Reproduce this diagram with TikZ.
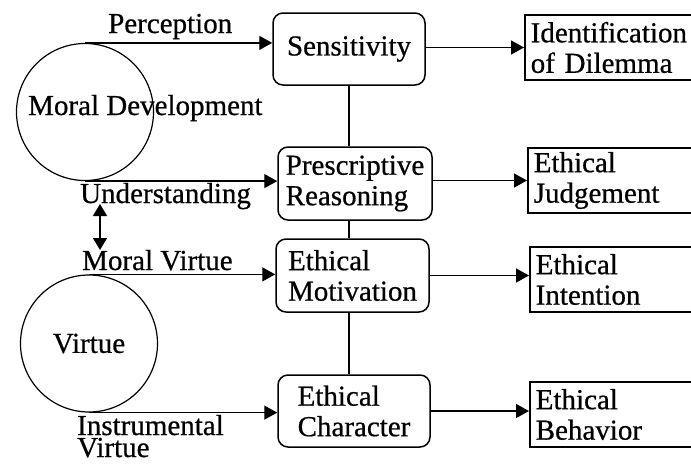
\documentclass[tikz,border=0pt]{standalone}
\usepackage{fontspec}
\setmainfont{Liberation Serif}[FakeBold=0.6]
\usetikzlibrary{arrows.meta}
\begin{document}
\begin{tikzpicture}[x=1pt,y=-1pt,
  every node/.style={font=\fontsize{29}{30.5}\selectfont},
  conn/.style={line width=1.4pt},
  arr/.style={conn,-{Triangle[length=13pt,width=14pt]}},
  dblarr/.style={conn,{Triangle[length=12pt,width=14pt]}-{Triangle[length=12pt,width=14pt]}},
  spine/.style={line width=2.4pt},
  ring/.style={draw,circle,line width=1.2pt,inner sep=0pt},
  stage/.style={draw,rounded corners=10pt,line width=1.5pt,align=left,inner sep=4pt},
  outcome/.style={draw,line width=1.5pt,anchor=west,text width=170pt,align=left,inner xsep=6pt,inner ysep=0pt,minimum height=65pt},
  lbl/.style={anchor=base west,inner sep=0pt}]
\useasboundingbox (0,0) rectangle (691,464);
\clip (0,0) rectangle (691,464);

% circles
\node[ring,minimum size=137pt] (md) at (85,112) {};
\node[lbl] (mdt) at (28,115) {Moral Development};
\node[ring,minimum size=137pt] (vc) at (89,343.5) {Virtue};

% stage boxes
\node[stage,minimum width=152pt,minimum height=72pt] (sens) at (349,49) {Sensitivity};
\node[stage,minimum width=154pt,minimum height=73pt] (pr) at (355,183.5) {Prescriptive\\Reasoning};
\node[stage,minimum width=153pt,minimum height=73pt] (mot) at (352.5,275.5) {Ethical\\Motivation};
\node[stage,minimum width=152pt,minimum height=72pt] (ch) at (354,411) {Ethical\\Character};

% outcome boxes
\node[outcome] (idn) at (524,47.5) {Identification\\of Dilemma};
\node[outcome] (jud) at (527,180.5) {Ethical\\Judgement};
\node[outcome] (int) at (529,279.5) {Ethical\\Intention};
\node[outcome] (beh) at (529,414.5) {Ethical\\Behavior};

% labels
\node[lbl] (lp) at (108,33) {Perception};
\node[lbl] (lu) at (80,203) {Understanding};
\node[lbl] (lmv) at (82,270) {Moral Virtue};
\node[lbl] (liv) at (77,435) {Instrumental};
\node[lbl] (liv2) at (77,457) {Virtue};

% left connectors
\draw[arr] (md.north) -- (sens.west |- md.north);
\draw[arr] (md.south) -- (pr.west |- md.south);
\draw[arr] (vc.north) -- (mot.west |- vc.north);
\draw[arr] (vc.south) -- (ch.west |- vc.south);

% double arrow
\coordinate (da1) at (100,204);
\coordinate (da2) at (100,250);
\draw[dblarr] (da1) -- (da2);

% spine
\draw[spine] (sens.south) -- (sens.south |- pr.north);
\draw[spine] (sens.south |- pr.south) -- (sens.south |- mot.north);
\draw[spine] (sens.south |- mot.south) -- (sens.south |- ch.north);

% right connectors
\draw[arr] (sens.east |- idn.west) -- (idn.west);
\draw[arr] (pr.east |- jud.west) -- (jud.west);
\draw[arr] (mot.east) -- (mot.east -| int.west);
\draw[arr] (ch.east) -- (ch.east -| beh.west);
\end{tikzpicture}
\end{document}
